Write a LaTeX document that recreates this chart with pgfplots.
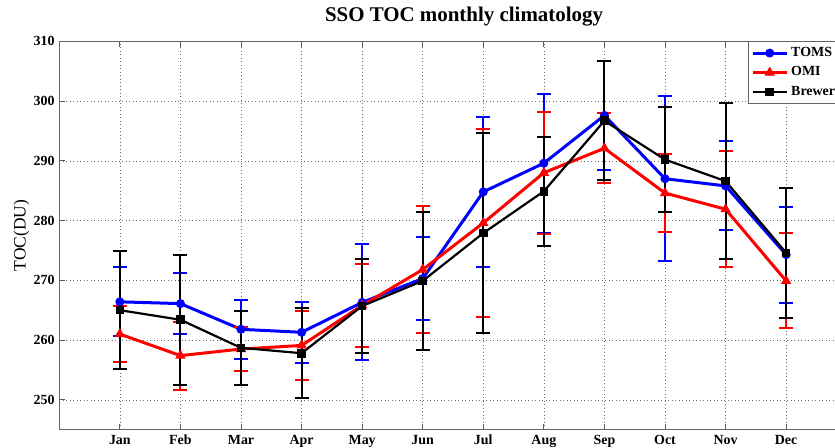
\documentclass[border=0pt]{standalone}
\usepackage{fontspec}
\setmainfont{Liberation Serif}
\usepackage{pgfplots}
\pgfplotsset{compat=1.18}
\definecolor{mblue}{RGB}{0,0,255}
\definecolor{mred}{RGB}{255,0,0}
\begin{document}
\begin{tikzpicture}
\begin{axis}[
  name=ax,
  scale only axis,
  width=787.4bp, height=388.4bp,
  xmin=0, xmax=13, ymin=245, ymax=310,
  xtick={1,...,12},
  xticklabels={Jan,Feb,Mar,Apr,May,Jun,Jul,Aug,Sep,Oct,Nov,Dec},
  ytick={250,260,...,310},
  /pgf/number format/assume math mode=true,
  tick label style={font=\fontsize{14}{15}\selectfont\bfseries, inner sep=0pt},
  xticklabel style={anchor=north, yshift=-5bp},
  yticklabel style={anchor=east, xshift=-4.6bp},
  tick align=inside,
  major tick length=6bp,
  tick style={color=gray!70!black, line width=0.8bp},
  axis line style={color=gray!80!black, line width=1.2bp},
  grid=major,
  major grid style={color=gray!85!black, line width=0.6bp, dash pattern=on 1bp off 2.5bp},
  ylabel={TOC(DU)},
  ylabel style={at={(axis description cs:-0.0480,0.5)}, anchor=center, font=\fontsize{17.5}{18}\selectfont},
  title={SSO TOC monthly climatology},
  title style={at={(axis description cs:0.514,1)}, anchor=base, yshift=13.7bp, font=\fontsize{21}{22}\selectfont\bfseries},
  legend style={at={(axis description cs:0.8743,1)}, anchor=north west,
    draw=gray!80!black, line width=1bp, fill=white,
    font=\fontsize{14}{15}\selectfont\bfseries,
    nodes={text height=10bp, text depth=3.5bp, inner sep=3bp},
    inner xsep=3bp, inner ysep=1.5bp},
  legend cell align=left,
  legend image code/.code={
    \draw[mark repeat=2,mark phase=2,#1] plot coordinates {(0bp,0bp) (17bp,0bp) (34bp,0bp)};
  },
  error bars/y dir=both,
  error bars/y explicit,
  error bars/error mark=|,
  error bars/error mark options={mark size=7bp, line width=2bp},
]
\addplot[color=mblue, line width=3bp, mark=*, mark size=4bp, mark options={fill=mblue, line width=1bp},
  error bars/error bar style={line width=2bp, color=mblue}]
coordinates {
(1,266.4) +- (0,5.8)
(2,266.1) +- (0,5.05)
(3,261.8) +- (0,4.95)
(4,261.3) +- (0,5.1)
(5,266.3) +- (0,9.7)
(6,270.3) +- (0,6.9)
(7,284.8) +- (0,12.6)
(8,289.6) +- (0,11.6)
(9,297.6) +- (0,9.1)
(10,287.0) +- (0,13.8)
(11,285.8) +- (0,7.45)
(12,274.3) +- (0,8.05)
};
\addlegendentry{TOMS}
\addplot[color=mred, line width=3bp, mark=triangle*, mark size=5bp, mark options={fill=mred, line width=1bp},
  error bars/error bar style={line width=2bp, color=mred}]
coordinates {
(1,261.0) +- (0,4.7)
(2,257.4) +- (0,5.7)
(3,258.5) +- (0,3.7)
(4,259.1) +- (0,5.7)
(5,265.8) +- (0,7.0)
(6,271.8) +- (0,10.6)
(7,279.6) +- (0,15.75)
(8,288.0) +- (0,10.2)
(9,292.1) +- (0,5.85)
(10,284.6) +- (0,6.5)
(11,281.9) +- (0,9.7)
(12,269.9) +- (0,7.95)
};
\addlegendentry{OMI}
\addplot[color=black, line width=2.2bp, mark=square*, mark size=3.8bp, mark options={fill=black, line width=1bp},
  error bars/error bar style={line width=2bp, color=black}]
coordinates {
(1,265.0) +- (0,9.85)
(2,263.4) +- (0,10.9)
(3,258.7) +- (0,6.2)
(4,257.8) +- (0,7.5)
(5,265.7) +- (0,7.9)
(6,269.9) +- (0,11.55)
(7,277.9) +- (0,16.75)
(8,284.9) +- (0,9.1)
(9,296.7) +- (0,9.95)
(10,290.2) +- (0,8.85)
(11,286.6) +- (0,13.1)
(12,274.6) +- (0,10.85)
};
\addlegendentry{Brewer}
\end{axis}
\pgfresetboundingbox
\path[use as bounding box] ([shift={(-59.3bp,-18.3bp)}]ax.south west) rectangle ([shift={(775.7bp,429.7bp)}]ax.south west);
\end{tikzpicture}
\end{document}
